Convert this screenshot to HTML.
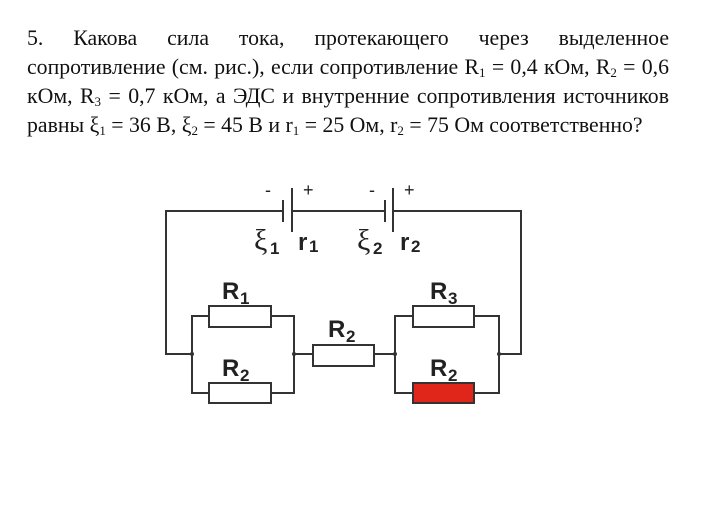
<!DOCTYPE html>
<html><head><meta charset="utf-8"><style>
body{margin:0;background:#fff;width:723px;height:518px;overflow:hidden;position:relative}
.t{position:absolute;left:27px;width:642px;font-family:"Liberation Serif",serif;font-size:21.8px;line-height:29px;color:#111;text-align:justify;text-align-last:justify;top:24px}
.t div{height:29px}
.l{text-align-last:left}
sub{font-size:13px;vertical-align:-3px;line-height:0}
svg{position:absolute;left:0;top:0}
</style></head><body>
<div class="t">
<div>5. Какова сила тока, протекающего через выделенное</div>
<div>сопротивление (см. рис.), если сопротивление R<sub>1</sub> = 0,4 кОм, R<sub>2</sub> = 0,6</div>
<div>кОм, R<sub>3</sub> = 0,7 кОм, а ЭДС и внутренние сопротивления источников</div>
<div class="l">равны ξ<sub>1</sub> = 36 В, ξ<sub>2</sub> = 45 В и r<sub>1</sub> = 25 Ом, r<sub>2</sub> = 75 Ом соответственно?</div>
</div>
<svg width="723" height="518" font-family="Liberation Sans, sans-serif" font-weight="bold" fill="#222">
<g stroke="#333" stroke-width="2" fill="none">
<polyline points="283,211 166,211 166,354 192,354"/>
<line x1="292" y1="211" x2="385" y2="211"/>
<polyline points="393,211 521,211 521,354 499,354"/>
<line x1="283" y1="200" x2="283" y2="222"/>
<line x1="292" y1="188" x2="292" y2="232"/>
<line x1="385" y1="200" x2="385" y2="222"/>
<line x1="393" y1="188" x2="393" y2="232"/>
<polyline points="209,316 192,316 192,393 209,393"/>
<polyline points="271,316 294,316 294,393 271,393"/>
<line x1="294" y1="354" x2="313" y2="354"/>
<line x1="374" y1="354" x2="395" y2="354"/>
<polyline points="413,316 395,316 395,393 413,393"/>
<polyline points="474,316 499,316 499,393 474,393"/>
<rect x="209" y="306" width="62" height="21"/>
<rect x="209" y="383" width="62" height="20"/>
<rect x="313" y="345" width="61" height="21"/>
<rect x="413" y="306" width="61" height="21"/>
</g>
<rect x="413" y="383" width="61" height="20" fill="#e0251b" stroke="#333" stroke-width="2"/>
<g fill="#333"><circle cx="192" cy="354" r="2"/><circle cx="294" cy="354" r="2"/><circle cx="395" cy="354" r="2"/><circle cx="499" cy="354" r="2"/></g>
<g font-size="18" font-weight="normal"><text x="265" y="196">-</text><text x="303" y="196">+</text><text x="369" y="196">-</text><text x="404" y="196">+</text></g>
<g font-size="24">
<text x="254" y="250" font-weight="normal" font-family="Liberation Serif, serif" font-size="30">ξ</text><text x="270" y="254" font-size="17">1</text>
<text x="298" y="250">r</text><text x="309" y="252" font-size="17">1</text>
<text x="357" y="250" font-weight="normal" font-family="Liberation Serif, serif" font-size="30">ξ</text><text x="373" y="254" font-size="17">2</text>
<text x="400" y="250">r</text><text x="411" y="252" font-size="17">2</text>
<text x="222" y="299">R</text><text x="240" y="304" font-size="17">1</text>
<text x="222" y="376">R</text><text x="240" y="381" font-size="17">2</text>
<text x="328" y="337">R</text><text x="346" y="342" font-size="17">2</text>
<text x="430" y="299">R</text><text x="448" y="304" font-size="17">3</text>
<text x="430" y="376">R</text><text x="448" y="381" font-size="17">2</text>
</g>
</svg>
</body></html>
